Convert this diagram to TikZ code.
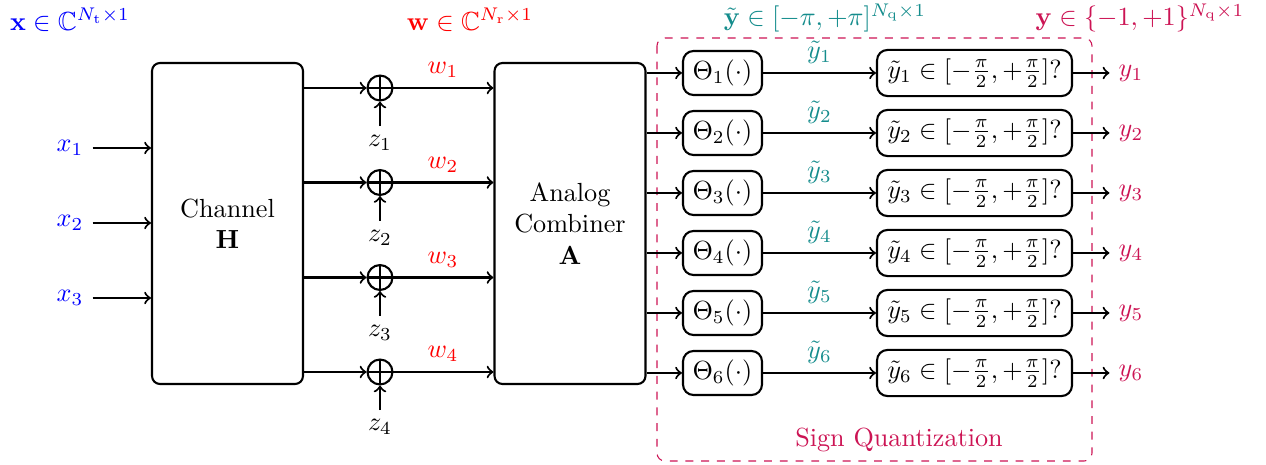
\documentclass[tikz,border=0pt]{standalone}
\usepackage{amsmath,amssymb}
\definecolor{crim}{RGB}{204,20,84}
\definecolor{tealc}{RGB}{20,140,140}
\begin{document}
\begin{tikzpicture}[x=0.38167pt, y=-0.38167pt,
  blk/.style={draw, thick, rounded corners=3pt, align=center, minimum width=57.6pt, minimum height=122.5pt},
  thetabox/.style={draw, thick, rounded corners=4pt, minimum width=30.15pt, minimum height=16.8pt, inner sep=2pt},
  chkbox/.style={draw, thick, rounded corners=4pt, minimum width=74.4pt, minimum height=17.6pt, inner sep=2pt},
  sum/.style={circle, draw, thick, minimum size=9.5pt, inner sep=0pt,
    path picture={\draw[thick] (path picture bounding box.north) -- (path picture bounding box.south)
      (path picture bounding box.west) -- (path picture bounding box.east);}},
  arr/.style={->, thick},
  lblb/.style={text=blue},
  lblr/.style={text=red},
  lblt/.style={text=tealc},
  lblc/.style={text=crim}
]
\useasboundingbox (0,0) rectangle (1266,465);

% top labels
\node[lblb] (lx) at (70,20) {$\mathbf{x}\in\mathbb{C}^{N_\mathrm{t}\times 1}$};
\node[lblr] (lw) at (470,20) {$\mathbf{w}\in\mathbb{C}^{N_\mathrm{r}\times 1}$};
\node[lblt] (lyt) at (825,18) {$\tilde{\mathbf{y}}\in[-\pi,+\pi]^{N_\mathrm{q}\times 1}$};
\node[lblc] (ly) at (1140,18) {$\mathbf{y}\in\{-1,+1\}^{N_\mathrm{q}\times 1}$};

% dashed sign quantization box
\draw[crim, dashed, rounded corners=3pt] (657,38) rectangle (1092,461);
\node[lblc] (sq) at (899,440) {Sign Quantization};

% channel
\node[blk] (ch) at (227.5,223.5) {Channel\\$\mathbf{H}$};
\foreach \i/\yy in {1/148,2/223,3/298}{
  \node[lblb] (x\i) at (70,\yy) {$x_\i$};
  \draw[arr] (x\i.east) ++(0,0) -- (x\i.east -| ch.west);
}

% combiner
\node[blk] (comb) at (570,223.5) {Analog\\Combiner\\$\mathbf{A}$};

% sums
\foreach \i/\yy in {1/88,2/182.5,3/277.5,4/372}{
  \node[sum] (s\i) at (380,\yy) {};
  \node (z\i) at (380,\yy+55) {$z_\i$};
  \draw[arr] (ch.east |- s\i) -- (s\i.west);
  \draw[arr] (z\i.north) -- (s\i.south);
  \draw[arr] (s\i.east) -- (s\i.east -| comb.west);
  \node[lblr] (w\i) at (443,\yy-18) {$w_\i$};
}

% quantization rows
\foreach \i/\yy in {1/73,2/133,3/193,4/253,5/313,6/373}{
  \node[thetabox] (t\i) at (722.5,\yy) {$\Theta_\i(\cdot)$};
  \node[chkbox] (c\i) at (974.5,\yy) {$\tilde{y}_\i\in[-\frac{\pi}{2},+\frac{\pi}{2}]?$};
  \node[lblc] (y\i) at (1131,\yy) {$y_\i$};
  \draw[arr] (comb.east |- t\i) -- (t\i.west);
  \draw[arr] (t\i.east) -- node[above, lblt] (yt\i) {$\tilde{y}_\i$} (c\i.west);
  \draw[arr] (c\i.east) -- (y\i.west);
}
\end{tikzpicture}
\end{document}
